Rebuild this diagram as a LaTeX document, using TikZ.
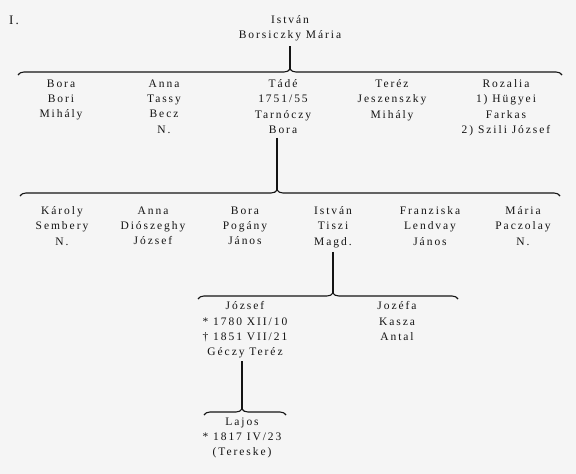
\documentclass[tikz,border=0pt]{standalone}
\usepackage{fontspec}
\setmainfont[LetterSpace=17]{Liberation Serif}
\usetikzlibrary{decorations.pathreplacing}
\definecolor{bg}{RGB}{245,245,245}
\definecolor{ink}{RGB}{20,20,20}
\begin{document}
\begin{tikzpicture}[x=1pt,y=-1pt,
  every node/.style={inner sep=0pt, font=\fontsize{11.5}{15.3}\selectfont, align=center, text=ink},
  person/.style={anchor=north, execute at begin node={\vphantom{ÁÉ}}},
  stem/.style={draw=ink, line width=1.6pt},
  brc/.style={draw=ink, line width=1.1pt, decorate}]
\fill[bg] (0,0) rectangle (576,474);
\useasboundingbox (0,0) rectangle (576,474);
\node[anchor=base west, font=\fontsize{13}{15}\selectfont] (num) at (9,24) {I.};
\node[person] (root) at (290,15) {István\\Borsiczky Mária};
% brace 1
\coordinate (b1l) at (18,75);
\coordinate (b1r) at (562,75);
\coordinate (t1) at (290,69);
\draw[brc, decoration={brace, amplitude=6pt, aspect=0.5}] (b1l) -- (b1r);
\draw[stem, shorten <=5pt] (root.south) -- (t1);
% row 1
\node[person] (bora1) at (61,79.5) {Bora\\Bori\\Mihály};
\node[person] (anna1) at (164,79.5) {Anna\\Tassy\\Becz\\N.};
\node[person] (tade) at (283,79.5) {Tádé\\1751/55\\Tarnóczy\\Bora};
\node[person] (terez) at (392,79.5) {Teréz\\Jeszenszky\\Mihály};
\node[person] (rozalia) at (506,79.5) {Rozalia\\1) Hügyei\\Farkas\\2) Szili József};
% brace 2
\coordinate (b2l) at (20,196);
\coordinate (b2r) at (560,196);
\coordinate (t2) at (277,190);
\draw[brc, decoration={brace, amplitude=6pt, aspect=0.476}] (b2l) -- (b2r);
\draw[stem, shorten <=4pt] (t2 |- tade.south) -- (t2);
% row 2
\node[person] (karoly) at (62,206.5) {Károly\\Sembery\\N.};
\node[person] (anna2) at (153,206.5) {Anna\\Diószeghy\\József};
\node[person] (bora2) at (245,206.5) {Bora\\Pogány\\János};
\node[person] (istvan2) at (333,206.5) {István\\Tiszi\\Magd.};
\node[person] (franz) at (430,206.5) {Franziska\\Lendvay\\János};
\node[person] (maria) at (523,206.5) {Mária\\Paczolay\\N.};
% brace 3
\coordinate (b3l) at (198,299);
\coordinate (b3r) at (458,299);
\coordinate (t3) at (333,293);
\draw[brc, decoration={brace, amplitude=6pt, aspect=0.519}] (b3l) -- (b3r);
\draw[stem, shorten <=4pt] (istvan2.south) -- (t3);
% row 3
\node[person] (jozsef) at (245,301.5) {József\\* 1780 XII/10\\† 1851 VII/21\\Géczy Teréz};
\node[person] (jozefa) at (397,301.5) {Jozéfa\\Kasza\\Antal};
% brace 4
\coordinate (b4l) at (204,415);
\coordinate (b4r) at (286,415);
\coordinate (t4) at (242,409);
\draw[brc, decoration={brace, amplitude=6pt, aspect=0.463}] (b4l) -- (b4r);
\draw[stem, shorten <=3pt] (t4 |- jozsef.south) -- (t4);
% row 4
\node[person] (lajos) at (242,417.5) {Lajos\\* 1817 IV/23\\(Tereske)};
\end{tikzpicture}
\end{document}
